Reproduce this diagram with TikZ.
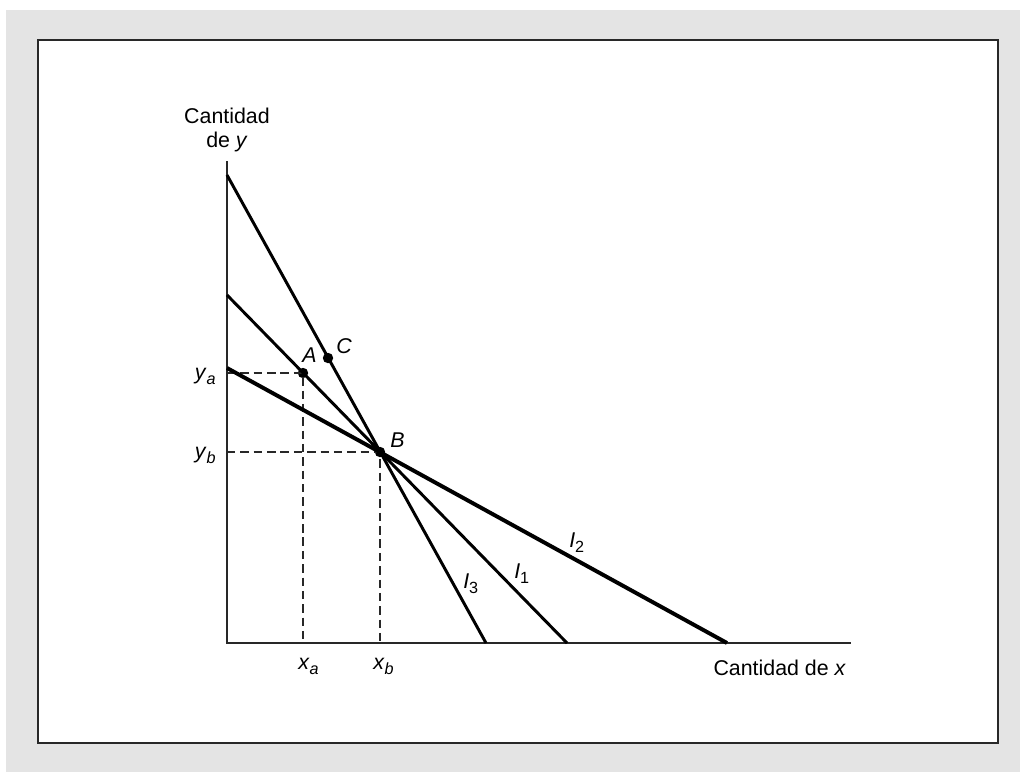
\documentclass[tikz,border=0pt]{standalone}
\usepackage{fontspec}
\setmainfont{Liberation Sans}
\definecolor{panel}{RGB}{228,228,228}
\definecolor{rule}{RGB}{40,40,40}
\newcommand{\lowidx}[1]{\raisebox{-0.45ex}{\fontsize{11.5}{12}\selectfont #1}}

\begin{document}
\begin{tikzpicture}[x=0.025cm, y=-0.025cm,
	font=\fontsize{15.2}{17.4}\selectfont,
	dot/.style={circle, inner sep=0pt, minimum size=0.26cm, fill=black},
	axis/.style={line width=1.4pt, rule},
	budget/.style={line width=2.1pt},
	guide/.style={line width=1.1pt, rule, dash pattern=on 6pt off 3.5pt}]
	\useasboundingbox (0,0) rectangle (1020,772);
	\fill[panel] (6,10) rectangle (1020,772);
	\draw[line width=1.8pt, rule, fill=white] (38,40) rectangle (998,743);
	% axes
	\coordinate (o) at (227,643);
	\coordinate (ytop) at (227,161);
	\coordinate (xend) at (851,643);
	\draw[axis] (ytop) -- (o) -- (xend);
	% points
	\node[dot] (A) at (303,373){};
	\node[dot] (B) at (380,452){};
	\node[dot] (C) at (328,358){};
	% guides
	\coordinate (ya) at (227,373);
	\coordinate (yb) at (227,452);
	\coordinate (xa) at (303,643);
	\coordinate (xb) at (380,643);
	\draw[guide] (ya) -- (A.center) -- (xa);
	\draw[guide] (yb) -- (B.center) -- (xb);
	% lines
	\coordinate (i3y) at (227,175);
	\coordinate (i3x) at (486,643);
	\coordinate (i1y) at (227,295);
	\coordinate (i1x) at (567,643);
	\coordinate (i2y) at (227,368);
	\coordinate (i2x) at (727,643);
	\draw[budget] (i3y) -- (i3x);
	\draw[budget] (i1y) -- (i1x);
	\draw[budget, line width=2.8pt] (i2y) -- (i2x);
	% labels
	\node[anchor=base] (lyaxis) at (227,123) {Cantidad};
	\node[anchor=base] (lyaxis2) at (227,147) {de \textit{y}};
	\node[anchor=base east] (lxaxis) at (851,675) {Cantidad de \textit{x}};
	\node[anchor=base east, inner sep=0pt] (lya) at (216,379) {\textit{y}\lowidx{\textit{a}}};
	\node[anchor=base east, inner sep=0pt] (lyb) at (216,458) {\textit{y}\lowidx{\textit{b}}};
	\node[anchor=base west, inner sep=0pt] (lxa) at (298,669) {\textit{x}\lowidx{\textit{a}}};
	\node[anchor=base west, inner sep=0pt] (lxb) at (373,669) {\textit{x}\lowidx{\textit{b}}};
	\node[anchor=base west, inner sep=0pt] (lA) at (302,362) {\textit{A}};
	\node[anchor=base west, inner sep=0pt] (lC) at (336,353) {\textit{C}};
	\node[anchor=base west, inner sep=0pt] (lB) at (390,447) {\textit{B}};
	\node[anchor=base west, inner sep=0pt] (lI3) at (463,588) {\textit{I}\lowidx{3}};
	\node[anchor=base west, inner sep=0pt] (lI1) at (514,578) {\textit{I}\lowidx{1}};
	\node[anchor=base west, inner sep=0pt] (lI2) at (569,547) {\textit{I}\lowidx{2}};
\end{tikzpicture}
\end{document}
